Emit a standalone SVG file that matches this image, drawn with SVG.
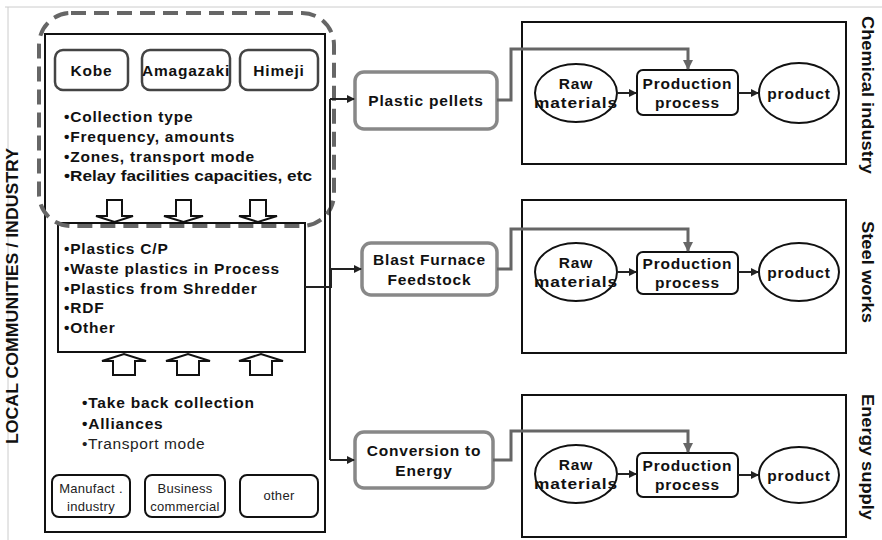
<svg xmlns="http://www.w3.org/2000/svg" width="882" height="540" viewBox="0 0 882 540">
<defs>
<style>
.t{font-family:"Liberation Sans",Arial,sans-serif;font-weight:bold;fill:#111;font-size:15.5px;letter-spacing:0.8px}
.tn{font-family:"Liberation Sans",Arial,sans-serif;fill:#222;font-size:15.5px;letter-spacing:0.6px}
.sm{font-family:"Liberation Sans",Arial,sans-serif;fill:#222;font-size:13px;letter-spacing:0.3px}
.rl{font-family:"Liberation Sans",Arial,sans-serif;font-weight:bold;fill:#111;font-size:16px}
.blk{fill:#fff;stroke:#111;stroke-width:2}
.city{fill:#fff;stroke:#444;stroke-width:2.5}
.mid{fill:#fff;stroke:#888;stroke-width:3.5}
.con{fill:none;stroke:#222;stroke-width:2}
.gcon{fill:none;stroke:#666;stroke-width:3}
.hol{fill:#fff;stroke:#111;stroke-width:2}
</style>
<marker id="ah" markerWidth="8" markerHeight="8" refX="7" refY="4" orient="auto" markerUnits="userSpaceOnUse">
<path d="M0,0 L8,4 L0,8 Z" fill="#222"/>
</marker>
<marker id="gah" markerWidth="10" markerHeight="10" refX="9" refY="5" orient="auto" markerUnits="userSpaceOnUse">
<path d="M0,0 L10,5 L0,10 Z" fill="#666"/>
</marker>
</defs>
<rect width="882" height="540" fill="#fff"/>
<path d="M5,7 H882 M8,7 V540" stroke="#ccc" stroke-width="1" fill="none"/>

<g id="left-label">
<text class="rl" transform="translate(18,296) rotate(-90)" text-anchor="middle" font-size="14" fill="#333" textLength="296" lengthAdjust="spacingAndGlyphs">LOCAL COMMUNITIES / INDUSTRY</text>
</g>

<g id="main-box">
<rect class="blk" x="45" y="34" width="280" height="498"/>
</g>

<g id="kobe"><rect class="city" x="55" y="50" width="73" height="40" rx="8"/><text class="t" x="91.5" y="76" text-anchor="middle">Kobe</text></g>
<g id="amagazaki"><rect class="city" x="142" y="50" width="88" height="40" rx="8"/><text class="t" x="186" y="76" text-anchor="middle" textLength="88" lengthAdjust="spacingAndGlyphs">Amagazaki</text></g>
<g id="himeji"><rect class="city" x="240" y="50" width="78" height="40" rx="8"/><text class="t" x="279" y="76" text-anchor="middle">Himeji</text></g>

<g id="city-bullets">
<text class="t" x="64" y="122">•Collection type</text>
<text class="t" x="64" y="142">•Frequency, amounts</text>
<text class="t" x="64" y="162">•Zones, transport mode</text>
<text class="t" x="64" y="181" textLength="248" lengthAdjust="spacingAndGlyphs" style="letter-spacing:0">•Relay facilities capacities, etc</text>
</g>

<g id="down-arrows">
<path class="hol" d="M107,200 H122 V216 H133 L114.5,222 L96,216 H107 Z"/>
<path class="hol" d="M176,200 H191 V216 H203 L183.5,222 L164,216 H176 Z"/>
<path class="hol" d="M250,200 H266 V216 H277 L258,222 L239,216 H250 Z"/>
</g>

<g id="waste-box">
<rect class="blk" x="58" y="223" width="247" height="129"/>
<text class="t" x="64" y="254">•Plastics C/P</text>
<text class="t" x="64" y="274">•Waste plastics in Process</text>
<text class="t" x="64" y="294">•Plastics from Shredder</text>
<text class="t" x="64" y="313">•RDF</text>
<text class="t" x="64" y="333">•Other</text>
</g>

<g id="group-dashed">
<rect x="39" y="13" width="295" height="213" rx="32" fill="none" stroke="#666" stroke-width="4" stroke-dasharray="15,8"/>
</g>

<g id="up-arrows">
<path class="hol" d="M113,375 V361 H102 L124,354 L146,361 H135 V375 Z"/>
<path class="hol" d="M177,375 V361 H166 L188,354 L210,361 H199 V375 Z"/>
<path class="hol" d="M250,375 V361 H239 L261,354 L283,361 H272 V375 Z"/>
</g>

<g id="take-back">
<text class="t" x="82" y="408">•Take back collection</text>
<text class="t" x="82" y="429">•Alliances</text>
<text class="tn" x="82" y="449">•Transport mode</text>
</g>

<g id="manufact"><rect class="blk" x="52" y="475" width="78" height="42" rx="7"/><text class="sm" x="91" y="493" text-anchor="middle">Manufact .</text><text class="sm" x="91" y="511" text-anchor="middle">industry</text></g>
<g id="business"><rect class="blk" x="145" y="475" width="80" height="42" rx="7"/><text class="sm" x="185" y="493" text-anchor="middle">Business</text><text class="sm" x="185" y="511" text-anchor="middle">commercial</text></g>
<g id="other"><rect class="blk" x="240" y="475" width="78" height="42" rx="7"/><text class="sm" x="279" y="500" text-anchor="middle">other</text></g>

<g id="plastic-pellets"><rect class="mid" x="355" y="72" width="142" height="57" rx="9"/><text class="t" x="426" y="106" text-anchor="middle">Plastic pellets</text></g>
<g id="blast-furnace"><rect class="mid" x="362" y="243" width="135" height="52" rx="9"/><text class="t" x="429.5" y="265" text-anchor="middle">Blast Furnace</text><text class="t" x="429.5" y="285" text-anchor="middle">Feedstock</text></g>
<g id="conversion"><rect class="mid" x="355" y="432" width="138" height="56" rx="9"/><text class="t" x="424" y="456" text-anchor="middle">Conversion to</text><text class="t" x="424" y="476" text-anchor="middle">Energy</text></g>

<g id="chemical">
<rect class="blk" x="522" y="22" width="324" height="142"/>
<ellipse cx="576" cy="93" rx="41" ry="29" fill="#fff" stroke="#111" stroke-width="2"/>
<text class="t" x="576" y="89" text-anchor="middle">Raw</text><text class="t" x="576" y="108" text-anchor="middle" textLength="84" lengthAdjust="spacingAndGlyphs">materials</text>
<rect class="blk" x="637" y="70" width="101" height="45" rx="6"/>
<text class="t" x="687.5" y="89" text-anchor="middle">Production</text><text class="t" x="687.5" y="108" text-anchor="middle">process</text>
<ellipse cx="799" cy="93" rx="40" ry="30" fill="#fff" stroke="#111" stroke-width="2"/>
<text class="t" x="799" y="99" text-anchor="middle">product</text>
<text class="rl" transform="translate(862,95) rotate(90)" text-anchor="middle" textLength="158" lengthAdjust="spacingAndGlyphs">Chemical industry</text>
</g>

<g id="steel">
<rect class="blk" x="522" y="200" width="324" height="153"/>
<ellipse cx="576" cy="272" rx="41" ry="29" fill="#fff" stroke="#111" stroke-width="2"/>
<text class="t" x="576" y="268" text-anchor="middle">Raw</text><text class="t" x="576" y="287" text-anchor="middle" textLength="84" lengthAdjust="spacingAndGlyphs">materials</text>
<rect class="blk" x="637" y="252" width="101" height="42" rx="6"/>
<text class="t" x="687.5" y="269" text-anchor="middle">Production</text><text class="t" x="687.5" y="288" text-anchor="middle">process</text>
<ellipse cx="799" cy="272" rx="40" ry="29" fill="#fff" stroke="#111" stroke-width="2"/>
<text class="t" x="799" y="278" text-anchor="middle">product</text>
<text class="rl" transform="translate(862,272) rotate(90)" text-anchor="middle" textLength="102" lengthAdjust="spacingAndGlyphs">Steel works</text>
</g>

<g id="energy">
<rect class="blk" x="522" y="395" width="324" height="142"/>
<ellipse cx="576" cy="474" rx="41" ry="29" fill="#fff" stroke="#111" stroke-width="2"/>
<text class="t" x="576" y="470" text-anchor="middle">Raw</text><text class="t" x="576" y="489" text-anchor="middle" textLength="84" lengthAdjust="spacingAndGlyphs">materials</text>
<rect class="blk" x="637" y="453" width="101" height="44" rx="6"/>
<text class="t" x="687.5" y="471" text-anchor="middle">Production</text><text class="t" x="687.5" y="490" text-anchor="middle">process</text>
<ellipse cx="799" cy="475" rx="40" ry="28" fill="#fff" stroke="#111" stroke-width="2"/>
<text class="t" x="799" y="481" text-anchor="middle">product</text>
<text class="rl" transform="translate(862,457) rotate(90)" text-anchor="middle" textLength="126" lengthAdjust="spacingAndGlyphs">Energy supply</text>
</g>

<g id="connectors">
<path class="con" d="M330,460 V99"/>
<path class="con" d="M330,99 H354" marker-end="url(#ah)"/>
<path class="con" d="M305,287 H331 V269"/>
<path class="con" d="M331,269 H361" marker-end="url(#ah)" stroke-width="3"/>
<path class="con" d="M330,460 H354" marker-end="url(#ah)"/>
<path class="gcon" d="M497,100 H511 V49 H688 V69" marker-end="url(#gah)"/>
<path class="gcon" d="M497,269 H511 V229 H688 V251" marker-end="url(#gah)"/>
<path class="gcon" d="M493,460 H511 V431 H688 V452" marker-end="url(#gah)"/>
<path class="con" d="M617,93 H636" marker-end="url(#ah)" stroke-width="3"/>
<path class="con" d="M738,93 H758" marker-end="url(#ah)" stroke-width="3"/>
<path class="con" d="M617,272 H636" marker-end="url(#ah)" stroke-width="3"/>
<path class="con" d="M738,272 H758" marker-end="url(#ah)" stroke-width="3"/>
<path class="con" d="M617,474 H636" marker-end="url(#ah)" stroke-width="3"/>
<path class="con" d="M738,475 H758" marker-end="url(#ah)" stroke-width="3"/>
</g>
</svg>
